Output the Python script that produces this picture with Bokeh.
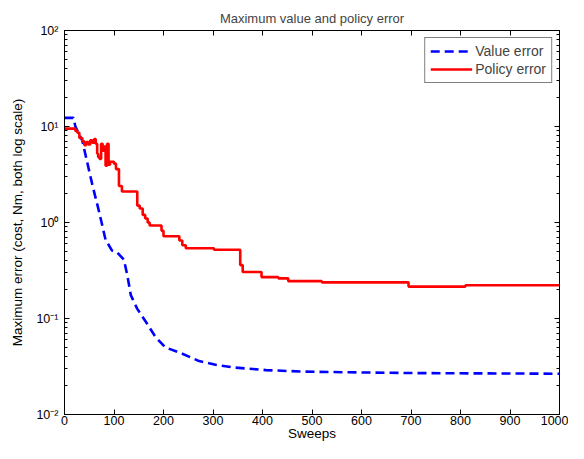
from bokeh.plotting import figure
from bokeh.models import (LogAxis, LinearAxis, SingleIntervalTicker, LogTicker,
                          CustomJSTickFormatter, Legend, LegendItem)
from bokeh.embed import file_html
from bokeh.resources import INLINE

# ---- data ----
value_sweeps = [0, 18, 22, 36, 56, 69, 83, 96, 106, 120, 127, 134, 147, 167, 184,
                204, 238, 272, 305, 339, 407, 481, 575, 710, 844, 1000]
value_error = [12.3, 12.3, 10.0, 7.1, 2.5, 1.35, 0.66, 0.51, 0.49, 0.41, 0.28, 0.175,
               0.126, 0.088, 0.064, 0.050, 0.043, 0.036, 0.033, 0.031, 0.029, 0.028,
               0.0275, 0.027, 0.0268, 0.0266]

policy_sweeps = [0, 22, 26, 30, 36, 40, 44, 48, 52, 56, 60, 63, 66, 68, 71, 74, 77, 80,
                 83, 86, 89, 92, 100, 104, 110, 116, 147, 152, 158, 163, 168, 172, 196,
                 200, 232, 238, 245, 302, 355, 360, 398, 432, 452, 520, 695, 810, 1000]
policy_error = [9.5, 9.0, 8.6, 7.6, 7.0, 6.4, 6.9, 6.5, 7.2, 6.8, 7.4, 6.6, 5.2, 4.8, 4.6,
                6.6, 5.6, 6.2, 3.9, 6.6, 4.0, 4.3, 4.1, 3.6, 2.4, 2.1, 1.5, 1.4, 1.2, 1.1,
                1.0, 0.93, 0.82, 0.72, 0.65, 0.58, 0.54, 0.52, 0.36, 0.305, 0.27, 0.262,
                0.245, 0.238, 0.215, 0.222, 0.222]

x_ticks_interval = 100
title_text = "Maximum value and policy error"
x_label = "Sweeps"
y_label = "Maximum error (cost, Nm, both log scale)"
series_names = ["Value error", "Policy error"]

FONT = "Liberation Sans"

p = figure(width=568, height=443, y_axis_type="log",
           x_range=(0, 1000), y_range=(1e-2, 1e2),
           output_backend="svg", toolbar_location=None,
           min_border_left=64, min_border_right=9,
           min_border_top=30, min_border_bottom=0)

p.title.text = title_text
p.title.text_font = FONT
p.title.text_font_size = "13px"
p.title.text_font_style = "normal"
p.title.align = "center"
p.title.offset = 0

p.xgrid.visible = False
p.ygrid.visible = False
p.outline_line_color = "black"
p.outline_line_width = 1
p.background_fill_color = "white"
p.border_fill_color = "white"

sup_js = """
const sup = {'-':'\u207b','0':'\u2070','1':'\u00b9','2':'\u00b2','3':'\u00b3',
             '4':'\u2074','5':'\u2075','6':'\u2076','7':'\u2077','8':'\u2078','9':'\u2079'};
const e = Math.round(Math.log10(tick));
return '10' + String(e).split('').map(c => sup[c]).join('');
"""

def style_axis(ax):
    ax.axis_line_color = "black"
    ax.major_tick_line_color = "black"
    ax.minor_tick_line_color = "black"
    ax.major_tick_in = 5
    ax.major_tick_out = 0
    ax.minor_tick_in = 3
    ax.minor_tick_out = 0
    ax.major_label_text_font = FONT
    ax.major_label_text_font_size = "12.5px"
    ax.major_label_text_color = "black"
    ax.axis_label_text_font = FONT
    ax.axis_label_text_font_size = "13.5px"
    ax.axis_label_text_font_style = "normal"
    ax.axis_label_text_color = "black"

# bottom axis
xa = p.xaxis[0]
xa.ticker = SingleIntervalTicker(interval=x_ticks_interval, num_minor_ticks=0)
xa.axis_label = x_label
style_axis(xa)
xa.major_label_standoff = 1
xa.axis_label_standoff = -2

# left axis
ya = p.yaxis[0]
ya.ticker = LogTicker(num_minor_ticks=10)
ya.formatter = CustomJSTickFormatter(code=sup_js)
ya.axis_label = y_label
style_axis(ya)
ya.major_label_standoff = 6
ya.axis_label_standoff = 8

# top and right axes (ticks only)
blank = CustomJSTickFormatter(code="return '';")
top = LinearAxis(ticker=SingleIntervalTicker(interval=x_ticks_interval, num_minor_ticks=0),
                 formatter=blank)
style_axis(top)
top.major_label_standoff = 0
top.major_label_text_font_size = "1px"
p.add_layout(top, "above")

right = LogAxis(ticker=LogTicker(num_minor_ticks=10), formatter=blank)
style_axis(right)
right.major_label_standoff = 0
right.major_label_text_font_size = "1px"
p.add_layout(right, "right")

r_val = p.line(value_sweeps, value_error, line_color="#0000ff", line_width=2.6,
               line_dash="9 5")
r_pol = p.step(policy_sweeps, policy_error, mode="after", line_color="#ff0000",
               line_width=2.6)

legend = Legend(items=[LegendItem(label=series_names[0], renderers=[r_val]),
                       LegendItem(label=series_names[1], renderers=[r_pol])],
                location="top_right")
legend.border_line_color = "black"
legend.border_line_width = 1
legend.background_fill_alpha = 1
legend.label_text_font = FONT
legend.label_text_font_size = "14px"
legend.glyph_width = 42
legend.glyph_height = 16
legend.label_height = 16
legend.spacing = 2
legend.padding = 5
legend.margin = 7
legend.label_standoff = 3
p.add_layout(legend)

open("out.html", "w").write(file_html(p, INLINE))
